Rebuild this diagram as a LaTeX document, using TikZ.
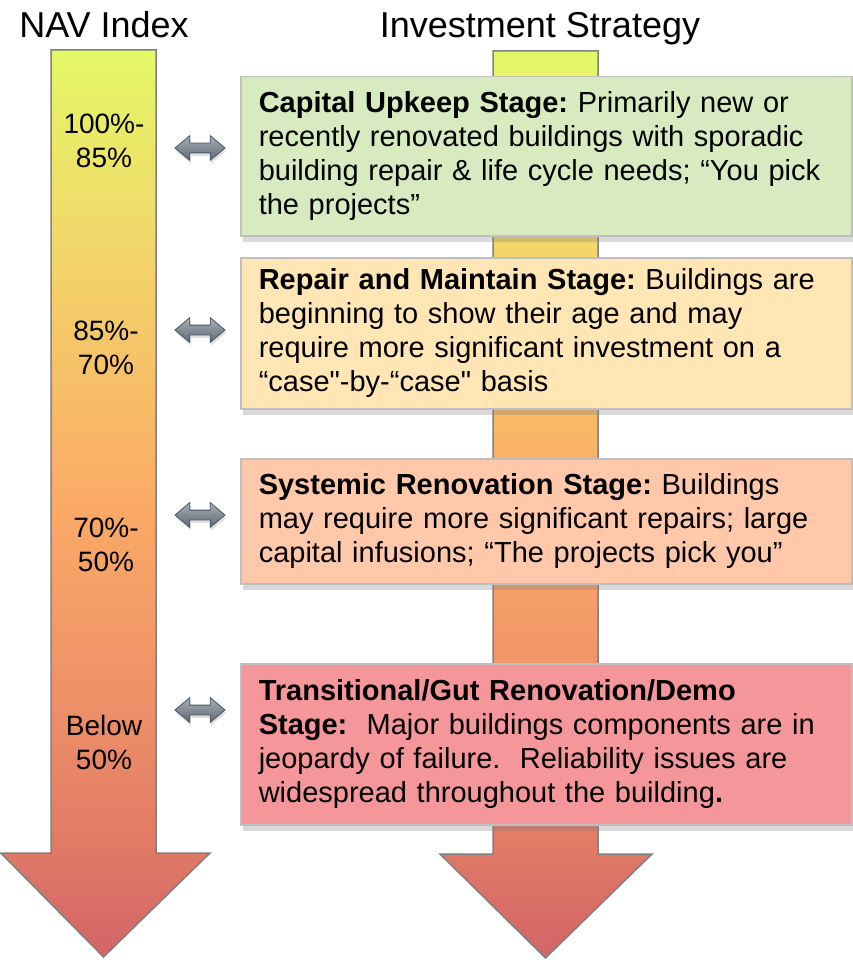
\documentclass[tikz,border=0pt]{standalone}
\usepackage{fontspec}
\setmainfont{Liberation Sans}
\newfontfamily\plainquote{Liberation Sans}
\usetikzlibrary{shapes.arrows,shadows}

\definecolor{navA}{HTML}{E4F866}
\definecolor{navA2}{HTML}{F2D66A}
\definecolor{navB}{HTML}{FBAA66}
\definecolor{navC}{HTML}{EE9068}
\definecolor{navD}{HTML}{E07A66}
\definecolor{navE}{HTML}{D26468}
\definecolor{upkeepfill}{HTML}{D8EBC0}
\definecolor{repairfill}{HTML}{FFE6B4}
\definecolor{systemicfill}{HTML}{FFC8AA}
\definecolor{transitfill}{HTML}{F4969A}
\definecolor{boxline}{HTML}{BFBFBF}
\definecolor{linktop}{HTML}{A8B0B8}
\definecolor{linkbottom}{HTML}{5E6874}
\definecolor{linkedge}{HTML}{4A5460}

% straight double quote, no TeX mapping
\newcommand{\sq}{{\plainquote"}}

% yellow at the top, red at the bottom
\pgfdeclareverticalshading{navfade}{100bp}{color(0bp)=(navE); color(25bp)=(navE);
  color(31bp)=(navD); color(39bp)=(navC); color(50bp)=(navB); color(64bp)=(navA2);
  color(75bp)=(navA); color(100bp)=(navA)}

\tikzset{
  bigarrow/.style={shading=navfade, draw=gray, line width=1.5pt, line join=miter},
  heading/.style={anchor=base, font=\fontsize{36}{40}\selectfont},
  navlabel/.style={align=center, font=\fontsize{28}{34}\selectfont},
  stagebox/.style={anchor=north west, draw=boxline, line width=1.5pt,
    text width=575pt, inner xsep=18pt, align=left,
    font=\fontsize{29}{34}\selectfont\frenchspacing,
    drop shadow={shadow xshift=2pt, shadow yshift=-6pt, opacity=0.3}},
  linkarrow/.style={double arrow, draw=linkedge, line width=0.8pt,
    top color=linktop, bottom color=linkbottom,
    inner xsep=0pt, inner ysep=4.5pt, minimum height=50pt,
    double arrow head extend=7.5pt, double arrow tip angle=80,
    drop shadow={shadow xshift=1pt, shadow yshift=-3pt, opacity=0.25}}
}

\begin{document}
\begin{tikzpicture}[x=1pt,y=-1pt]
\useasboundingbox (0,0) rectangle (852,960);

% Headings
\node[heading] (navhead) at (104,38) {NAV Index};
\node[heading] (strathead) at (540,38) {Investment Strategy};

% Big arrows
\draw[bigarrow] (51,50) -- (156,50) -- (156,853) -- (210,853) -- (103.5,957)
  -- (0.8,853) -- (51,853) -- cycle;
\draw[bigarrow] (493,51) -- (598,51) -- (598,854) -- (652,854) -- (545.5,958)
  -- (440,854) -- (493,854) -- cycle;

% NAV ranges
\node[navlabel] (nav100) at (104,141) {100\%-\\85\%};
\node[navlabel] (nav85) at (106,348) {85\%-\\70\%};
\node[navlabel] (nav70) at (106,545) {70\%-\\50\%};
\node[navlabel] (navlow) at (104,742) {Below\\50\%};

% Stages
\node[stagebox, fill=upkeepfill, minimum height=159pt] (upkeep) at (240,76)
  {\textbf{Capital Upkeep Stage:} Primarily new or\\
   recently renovated buildings with sporadic\\
   building repair \& life cycle needs; “You pick\\
   the projects”};
\node[stagebox, fill=repairfill, minimum height=151pt] (repair) at (240,257)
  {\textbf{Repair and Maintain Stage:} Buildings are\\
   beginning to show their age and may\\
   require more significant investment on a\\
   “case\sq-by-“case\sq{} basis};
\node[stagebox, fill=systemicfill, minimum height=125pt] (systemic) at (240,458)
  {\textbf{Systemic Renovation Stage:} Buildings\\
   may require more significant repairs; large\\
   capital infusions; “The projects pick you”};
\node[stagebox, fill=transitfill, minimum height=161pt] (transit) at (240,663)
  {\textbf{Transitional/Gut Renovation/Demo}\\
   \textbf{Stage:}~ Major buildings components are in\\
   jeopardy of failure.~ Reliability issues are\\
   widespread throughout the building\textbf{.}};

% Links between ranges and stages
\node[linkarrow] (link1) at (200,148) {};
\node[linkarrow] (link2) at (200,330) {};
\node[linkarrow] (link3) at (200,515) {};
\node[linkarrow] (link4) at (200,710) {};

\end{tikzpicture}
\end{document}
